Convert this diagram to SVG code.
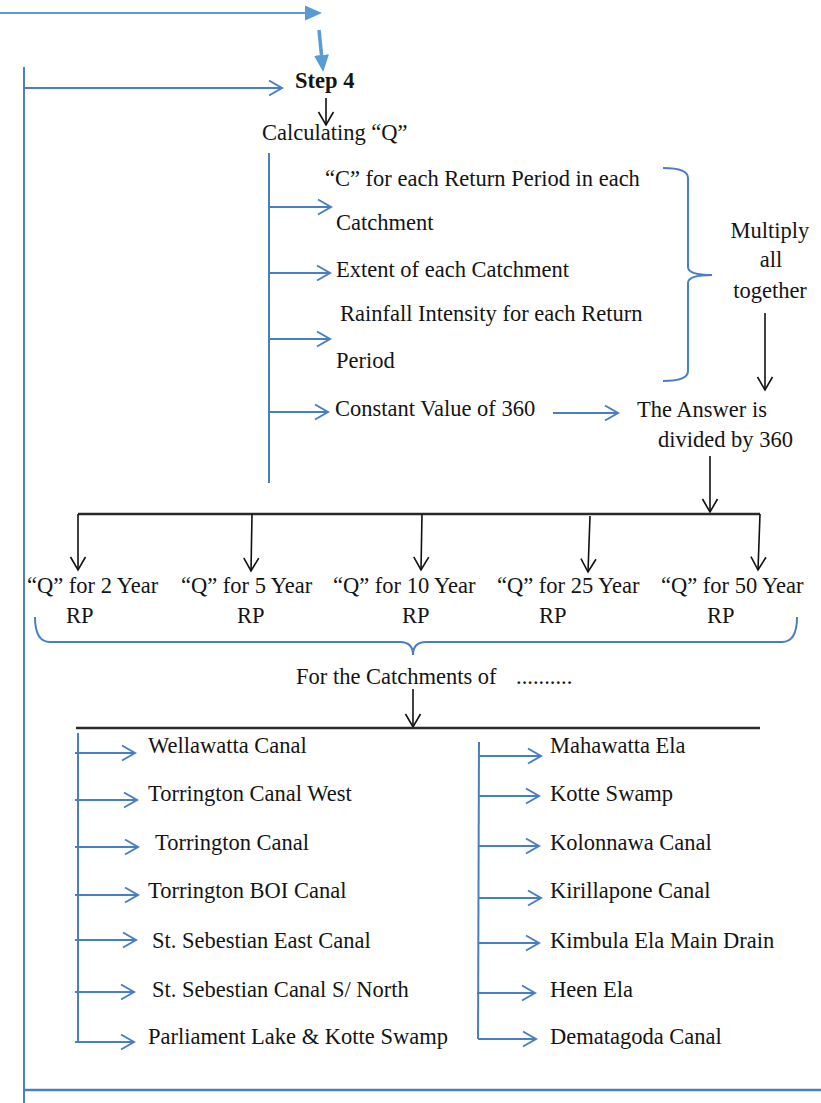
<svg xmlns="http://www.w3.org/2000/svg" width="821" height="1103" viewBox="0 0 821 1103">
<style>
text{font-size:22.5px;fill:#141414}
.b{font-weight:bold}
.m{text-anchor:middle}
.bl{fill:none;stroke:#4A7EC4;stroke-width:2}
.bk{fill:none;stroke:#111;stroke-width:1.6}
.bar{fill:none;stroke:#2a2a2a;stroke-width:2.6}
</style>
<defs>
<marker id="cb" markerUnits="userSpaceOnUse" markerWidth="16" markerHeight="18" refX="13" refY="7.5" orient="auto" viewBox="-1 -1 16 17">
<path d="M0,0 L13,7.5 L0,15" fill="none" stroke="#4A7EC4" stroke-width="2"/>
</marker>
<marker id="ck" markerUnits="userSpaceOnUse" markerWidth="16" markerHeight="18" refX="13" refY="7.5" orient="auto" viewBox="-1 -1 16 17">
<path d="M0,0 L13,7.5 L0,15" fill="none" stroke="#111" stroke-width="1.6"/>
</marker>
<marker id="tf" markerUnits="userSpaceOnUse" markerWidth="18" markerHeight="16" refX="0" refY="7.5" orient="auto" viewBox="0 0 18 15">
<path d="M0,0 L17,7.5 L0,15 Z" fill="#5B9BD5"/>
</marker>
</defs>

<g id="connectors">
<line x1="0" y1="13" x2="305" y2="13" stroke="#5B9BD5" stroke-width="2" marker-end="url(#tf)"/>
<line x1="319" y1="30" x2="321.5" y2="55" stroke="#5B9BD5" stroke-width="3.5" marker-end="url(#tf)"/>
<line class="bl" x1="24" y1="67" x2="24" y2="1103"/>
<line class="bl" x1="24" y1="88" x2="282" y2="88" marker-end="url(#cb)"/>
<line class="bk" x1="326" y1="98" x2="326" y2="125" marker-end="url(#ck)"/>
<line class="bl" x1="269" y1="153" x2="269" y2="483"/>
<line class="bl" x1="269" y1="207" x2="331" y2="207" marker-end="url(#cb)"/>
<line class="bl" x1="269" y1="273" x2="330" y2="273" marker-end="url(#cb)"/>
<line class="bl" x1="269" y1="339" x2="330" y2="339" marker-end="url(#cb)"/>
<line class="bl" x1="269" y1="412" x2="328" y2="412" marker-end="url(#cb)"/>
<path class="bl" d="M663,168 Q688,168 688,178 L688,267 Q688,275 712,275 Q688,275 688,283 L688,371 Q688,381 663,381"/>
<line class="bk" x1="765" y1="313" x2="765" y2="390" marker-end="url(#ck)"/>
<line class="bl" x1="553" y1="413" x2="618" y2="413" marker-end="url(#cb)"/>
<line class="bk" x1="710" y1="456" x2="710" y2="512" marker-end="url(#ck)"/>
<line class="bar" x1="78" y1="514" x2="760" y2="514"/>
<line class="bk" x1="78" y1="514" x2="78" y2="570" marker-end="url(#ck)"/>
<line class="bk" x1="252" y1="514" x2="251" y2="571" marker-end="url(#ck)"/>
<line class="bk" x1="422" y1="514" x2="421" y2="570" marker-end="url(#ck)"/>
<line class="bk" x1="590" y1="516" x2="588" y2="572" marker-end="url(#ck)"/>
<line class="bk" x1="760" y1="514" x2="758" y2="570" marker-end="url(#ck)"/>
<path class="bl" d="M35,617 Q35,642 50,642 L400,642 Q413,642 413,655 Q413,642 426,642 L782,642 Q797,642 797,617"/>
<line class="bk" x1="413" y1="689" x2="413" y2="727" marker-end="url(#ck)"/>
<line class="bar" x1="76" y1="728" x2="760" y2="728"/>
<line class="bl" x1="78" y1="733" x2="78" y2="1043"/>
<line class="bl" x1="75" y1="753" x2="135" y2="753" marker-end="url(#cb)"/>
<line class="bl" x1="75" y1="800" x2="137" y2="800" marker-end="url(#cb)"/>
<line class="bl" x1="75" y1="847" x2="138" y2="847" marker-end="url(#cb)"/>
<line class="bl" x1="75" y1="895" x2="138" y2="895" marker-end="url(#cb)"/>
<line class="bl" x1="75" y1="940" x2="136" y2="940" marker-end="url(#cb)"/>
<line class="bl" x1="75" y1="992" x2="134" y2="992" marker-end="url(#cb)"/>
<line class="bl" x1="75" y1="1042" x2="134" y2="1042" marker-end="url(#cb)"/>
<line class="bl" x1="479" y1="742" x2="478" y2="1039"/>
<line class="bl" x1="479" y1="756" x2="541" y2="756" marker-end="url(#cb)"/>
<line class="bl" x1="479" y1="796" x2="539" y2="796" marker-end="url(#cb)"/>
<line class="bl" x1="479" y1="846" x2="539" y2="846" marker-end="url(#cb)"/>
<line class="bl" x1="479" y1="898" x2="541" y2="898" marker-end="url(#cb)"/>
<line class="bl" x1="479" y1="943" x2="539" y2="943" marker-end="url(#cb)"/>
<line class="bl" x1="477" y1="993" x2="535" y2="993" marker-end="url(#cb)"/>
<line class="bl" x1="478" y1="1039" x2="536" y2="1039" marker-end="url(#cb)"/>
<line x1="24" y1="1090" x2="821" y2="1090" stroke="#4A7EC4" stroke-width="2.6"/>
</g>

<g font-family="Liberation Serif, Times New Roman, DejaVu Serif, serif">
<g id="step4"><text class="b" x="295" y="88">Step 4</text></g>
<g id="calc"><text x="262" y="140">Calculating “Q”</text></g>
<g id="c-factor"><text x="325" y="186">“C” for each Return Period in each</text><text x="336" y="230">Catchment</text></g>
<g id="extent"><text x="336" y="277">Extent of each Catchment</text></g>
<g id="rainfall"><text x="340" y="321">Rainfall Intensity for each Return</text><text x="336" y="368">Period</text></g>
<g id="constant"><text x="335" y="416">Constant Value of 360</text></g>
<g id="multiply"><text class="m" x="770" y="238">Multiply</text><text class="m" x="771" y="267">all</text><text class="m" x="770" y="298">together</text></g>
<g id="answer"><text x="637" y="417">The Answer is</text><text x="658" y="447">divided by 360</text></g>
<g id="q2"><text x="27" y="593">“Q” for 2 Year</text><text x="66" y="623">RP</text></g>
<g id="q5"><text x="181" y="593">“Q” for 5 Year</text><text x="237" y="623">RP</text></g>
<g id="q10"><text x="333" y="593">“Q” for 10 Year</text><text x="402" y="623">RP</text></g>
<g id="q25"><text x="497" y="593">“Q” for 25 Year</text><text x="539" y="623">RP</text></g>
<g id="q50"><text x="661" y="593">“Q” for 50 Year</text><text x="707" y="623">RP</text></g>
<g id="catchments"><text x="296" y="684">For the Catchments of<tspan x="516">..........</tspan></text></g>
<g id="c1"><text x="148" y="753">Wellawatta Canal</text></g>
<g id="c2"><text x="148" y="801">Torrington Canal West</text></g>
<g id="c3"><text x="155" y="850">Torrington Canal</text></g>
<g id="c4"><text x="148" y="898">Torrington BOI Canal</text></g>
<g id="c5"><text x="152" y="948">St. Sebestian East Canal</text></g>
<g id="c6"><text x="152" y="997">St. Sebestian Canal S/ North</text></g>
<g id="c7"><text x="148" y="1044">Parliament Lake &amp; Kotte Swamp</text></g>
<g id="c8"><text x="550" y="753">Mahawatta Ela</text></g>
<g id="c9"><text x="550" y="801">Kotte Swamp</text></g>
<g id="c10"><text x="550" y="850">Kolonnawa Canal</text></g>
<g id="c11"><text x="550" y="898">Kirillapone Canal</text></g>
<g id="c12"><text x="550" y="948">Kimbula Ela Main Drain</text></g>
<g id="c13"><text x="550" y="997">Heen Ela</text></g>
<g id="c14"><text x="550" y="1044">Dematagoda Canal</text></g>
</g>
</svg>
